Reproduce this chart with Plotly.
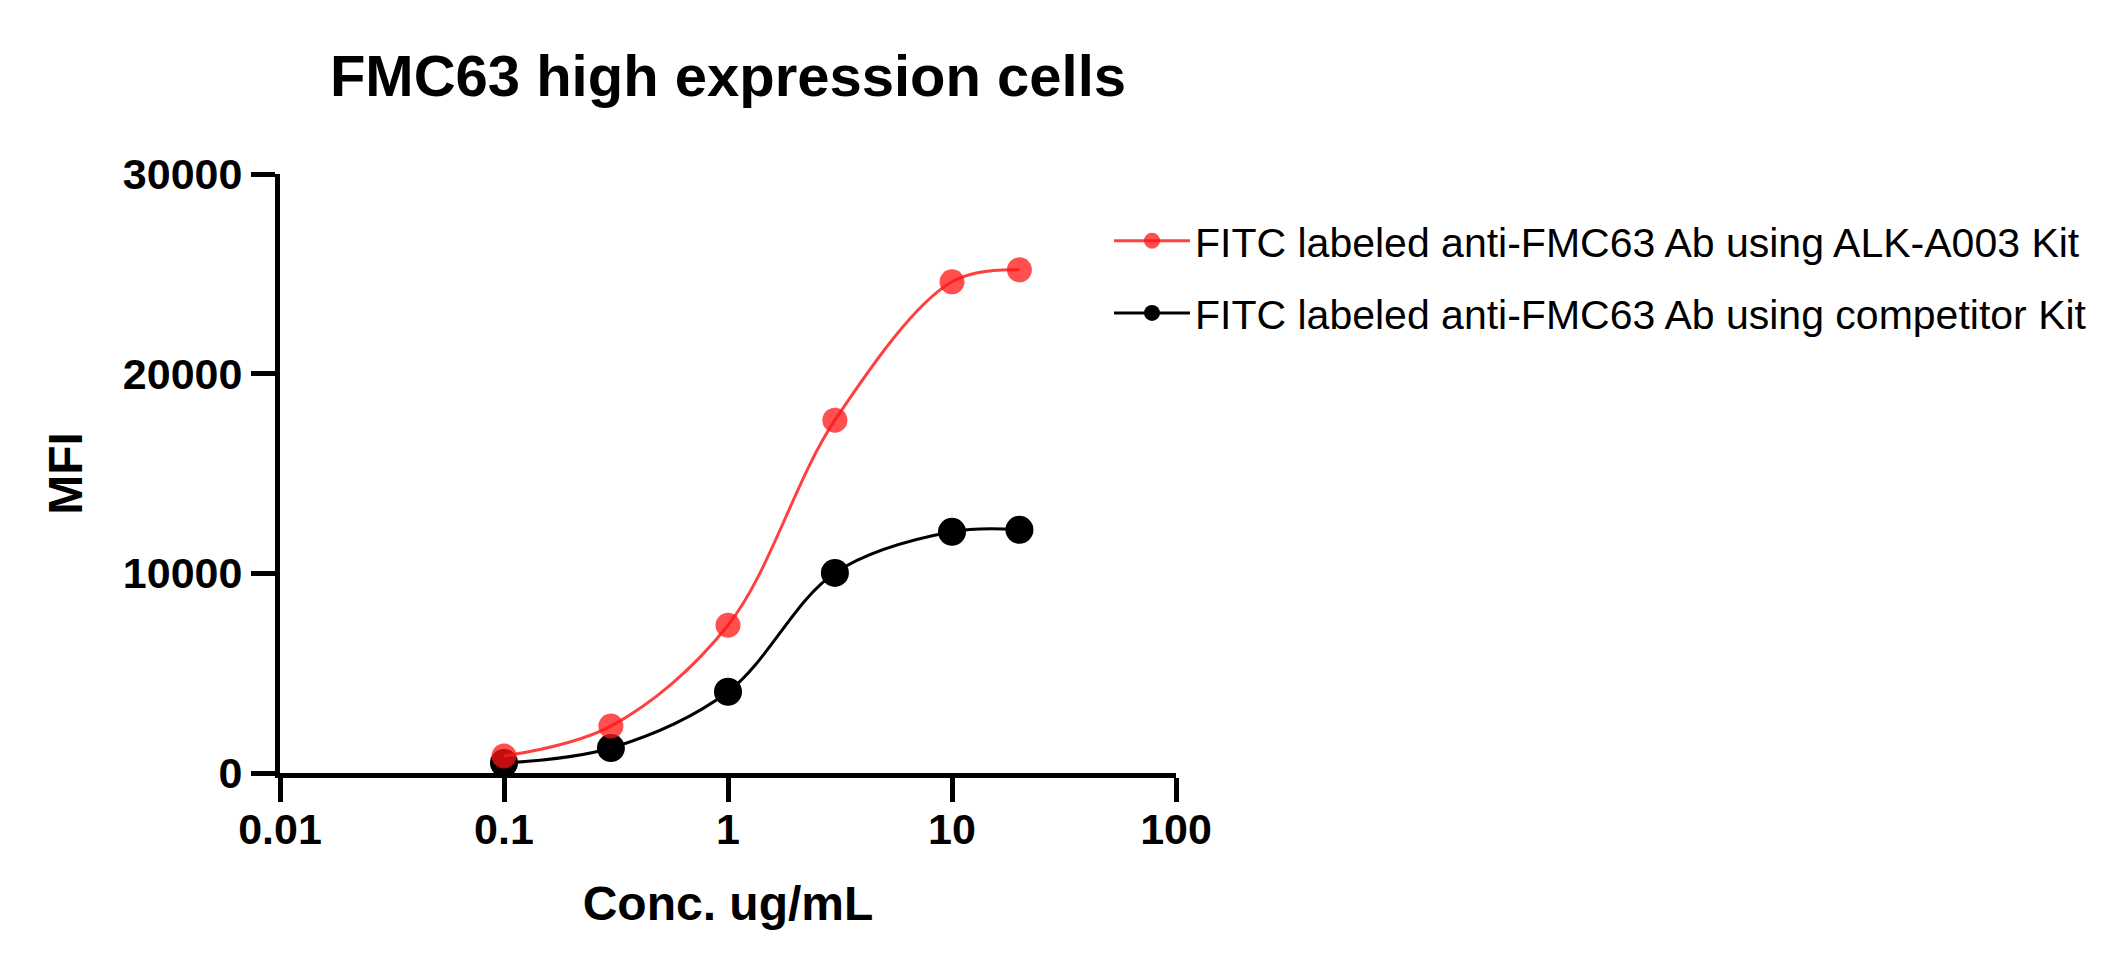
import plotly.graph_objects as go

# Data
conc = [0.1, 0.3, 1, 3, 10, 20]
mfi_alk = [850, 2350, 7400, 17670, 24600, 25200]
mfi_comp = [500, 1250, 4070, 10020, 12080, 12180]
series_names = ["FITC labeled anti-FMC63 Ab using ALK-A003 Kit",
                "FITC labeled anti-FMC63 Ab using competitor Kit"]
x_ticks = [0.01, 0.1, 1, 10, 100]
x_tick_labels = ["0.01", "0.1", "1", "10", "100"]
y_ticks = [0, 10000, 20000, 30000]
y_tick_labels = ["0", "10000", "20000", "30000"]

FONT = "Liberation Sans, Arial, sans-serif"

L, R, T, B = 272, 956, 166, 206
PW = 2124 - L - R
PH = 971 - T - B

fig = go.Figure()
fig.add_trace(go.Scatter(
    x=conc, y=mfi_comp, name=series_names[1], mode="lines+markers",
    legendgroup="b", legendrank=2,
    line=dict(color="black", width=3, shape="spline", smoothing=1),
    marker=dict(color="black", size=28),
    cliponaxis=False,
))
fig.add_trace(go.Scatter(
    x=conc, y=mfi_alk, name=series_names[0], mode="lines+markers",
    legendgroup="a", legendrank=1,
    line=dict(color="rgba(255,30,30,0.85)", width=3, shape="spline", smoothing=1),
    marker=dict(color="rgba(255,20,20,0.75)", size=25),
    cliponaxis=False,
))

fig.update_layout(
    width=2124, height=971,
    paper_bgcolor="white", plot_bgcolor="white",
    margin=dict(l=L, r=R, t=T, b=B, autoexpand=False),
    font=dict(family=FONT, color="black"),
    title=dict(
        text="FMC63 high expression cells",
        font=dict(family=FONT, size=58, color="black", weight="bold"),
        x=0.5, xref="paper", xanchor="center",
        y=1 - 68 / 971, yref="container", yanchor="middle",
    ),
    showlegend=True,
    legend=dict(
        traceorder="grouped",
        tracegroupgap=16,
        x=(1101 - L) / PW, xanchor="left",
        y=1 - (199.5 - T) / PH, yanchor="top",
        font=dict(family=FONT, size=41, color="black"),
        bgcolor="rgba(0,0,0,0)",
        itemwidth=76,
    ),
)

fig.update_xaxes(
    type="log", range=[-2, 2],
    tickvals=x_ticks, ticktext=x_tick_labels,
    showline=True, linecolor="black", linewidth=5,
    ticks="outside", ticklen=24, tickwidth=5, tickcolor="black",
    ticklabelstandoff=-10,
    showgrid=False, zeroline=False,
    tickfont=dict(family=FONT, size=43, color="black", weight="bold"),
    title=dict(text="Conc. ug/mL", standoff=36,
               font=dict(family=FONT, size=48, color="black", weight="bold")),
)
fig.update_yaxes(
    range=[0, 30000],
    tickvals=y_ticks, ticktext=y_tick_labels,
    showline=True, linecolor="black", linewidth=5,
    ticks="outside", ticklen=24, tickwidth=5, tickcolor="black",
    showgrid=False, zeroline=False,
    tickfont=dict(family=FONT, size=43, color="black", weight="bold"),
    title=dict(text="MFI", standoff=27,
               font=dict(family=FONT, size=48, color="black", weight="bold")),
)

fig.write_html("out.html")
